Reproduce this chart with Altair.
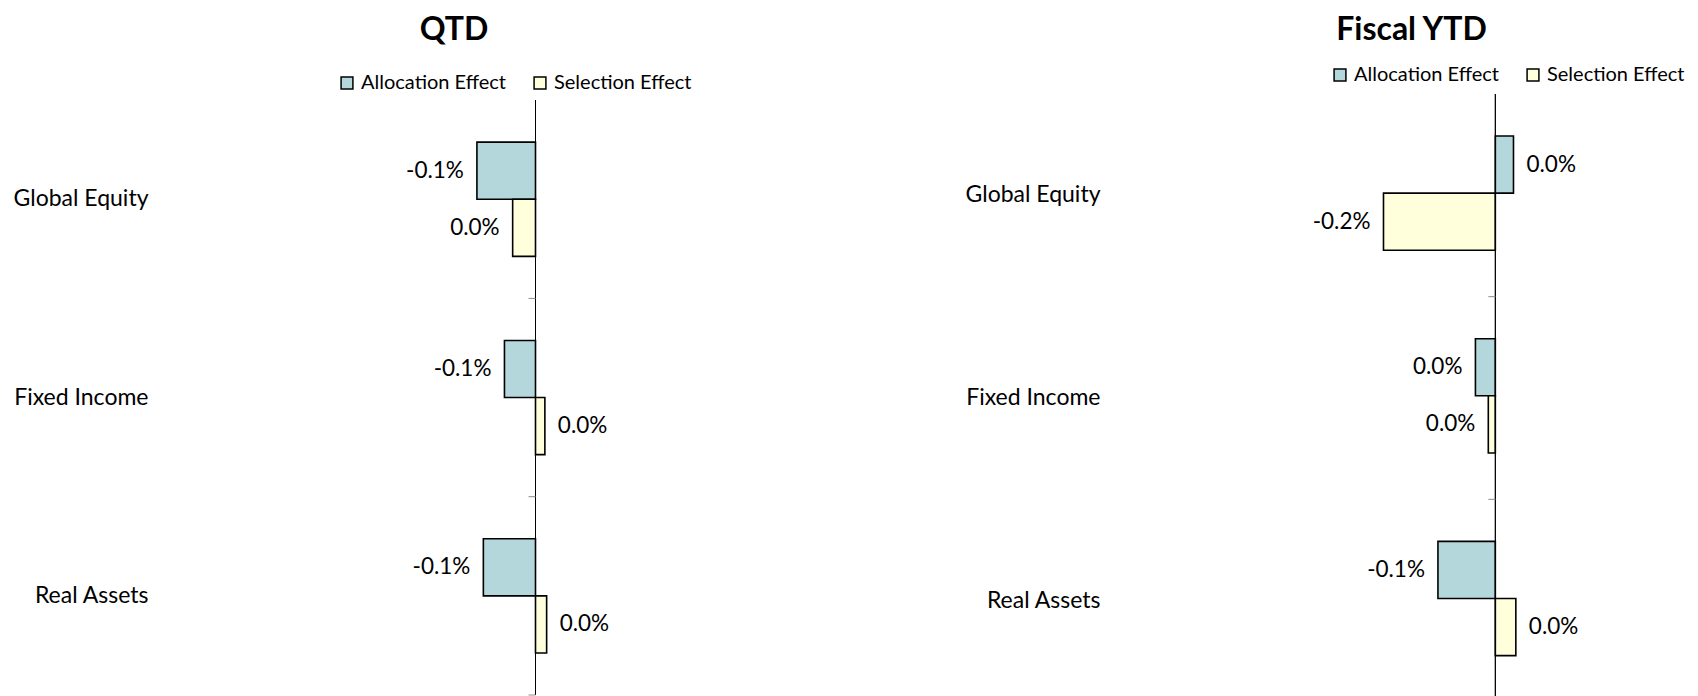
import altair as alt
import pandas as pd

categories = ["Global Equity", "Fixed Income", "Real Assets"]
effects = ["Allocation Effect", "Selection Effect"]
effect_colors = ["#b4d7dc", "#ffffdc"]

qtd_allocation = [-0.100, -0.053, -0.089]
qtd_selection = [-0.039, 0.016, 0.019]
qtd_alloc_labels = ["-0.1%", "-0.1%", "-0.1%"]
qtd_sel_labels = ["0.0%", "0.0%", "0.0%"]

ytd_allocation = [0.031, -0.034, -0.098]
ytd_selection = [-0.191, -0.012, 0.035]
ytd_alloc_labels = ["0.0%", "0.0%", "-0.1%"]
ytd_sel_labels = ["-0.2%", "0.0%", "0.0%"]

FONT = "Lato"


def frame(alloc, sel, alabels, slabels):
    rows = []
    for i, c in enumerate(categories):
        rows.append({"category": c, "effect": effects[0], "value": alloc[i], "label": alabels[i]})
        rows.append({"category": c, "effect": effects[1], "value": sel[i], "label": slabels[i]})
    return pd.DataFrame(rows)


def panel(df, title, domain, width, height, outer_pad, label_pad, legend_x, legend_y,
          title_offset, title_frame, title_dx):
    yscale = alt.Scale(domain=categories, paddingInner=0, paddingOuter=outer_pad, align=1)
    xscale = alt.Scale(domain=domain, nice=False, zero=False)
    yaxis = alt.Axis(title=None, ticks=False, domain=False, labelPadding=label_pad,
                     labelFontSize=23, labelFont=FONT, labelColor="#000")
    y = alt.Y("category:N", scale=yscale, sort=categories, axis=yaxis)
    yoff = alt.YOffset("effect:N", sort=effects,
                       scale=alt.Scale(domain=effects, paddingInner=0, paddingOuter=0.736))
    x = alt.X("value:Q", scale=xscale, axis=None)
    base = alt.Chart(df)
    bars = base.mark_bar(stroke="black", strokeWidth=1.6).encode(
        x=x, y=y, yOffset=yoff,
        color=alt.Color("effect:N", sort=effects,
                        scale=alt.Scale(domain=effects, range=effect_colors),
                        legend=alt.Legend(title=None, orient="none", legendX=legend_x,
                                          legendY=legend_y, direction="horizontal",
                                          symbolType="square", symbolSize=140,
                                          symbolStrokeColor="black", symbolStrokeWidth=1.5,
                                          labelFontSize=20, labelFont=FONT, labelColor="#000",
                                          labelOffset=4, columnPadding=24)),
    )
    neg = base.transform_filter("datum.value < 0").mark_text(
        align="right", baseline="middle", dx=-13, fontSize=22.5, font=FONT, color="#000"
    ).encode(x=x, y=y, yOffset=yoff, text="label:N")
    pos = base.transform_filter("datum.value >= 0").mark_text(
        align="left", baseline="middle", dx=13, fontSize=22.5, font=FONT, color="#000"
    ).encode(x=x, y=y, yOffset=yoff, text="label:N")
    axis_df = pd.DataFrame({"category": categories, "value": [0.0] * len(categories)})
    # zero line: a zero-width outlined band per category, spanning the category bands only
    zero = alt.Chart(axis_df).mark_bar(
        fill="transparent", stroke="black", strokeWidth=1
    ).encode(
        x=x, x2=alt.X2("value"),
        y=alt.Y("category:N", scale=yscale, sort=categories, axis=yaxis),
    )
    ticks = alt.Chart(axis_df).mark_rule(
        color="#8c8c8c", strokeWidth=1, xOffset=-7
    ).encode(
        x=x, x2=alt.X2("value"),
        y=alt.Y("category:N", scale=yscale, sort=categories, bandPosition=1, axis=yaxis),
    )
    return alt.layer(bars, zero, ticks, neg, pos).properties(
        width=width, height=height,
        title=alt.TitleParams(text=title, fontSize=32, font=FONT, fontWeight="bold",
                              color="#000", anchor="middle", frame=title_frame,
                              offset=title_offset, dx=title_dx),
    )


left = panel(frame(qtd_allocation, qtd_selection, qtd_alloc_labels, qtd_sel_labels),
             "QTD", [-0.6, 0.6], 703, 601, 0.0154, 36, 153, -21, 26, "bounds", 4)
right = panel(frame(ytd_allocation, ytd_selection, ytd_alloc_labels, ytd_sel_labels),
              "Fiscal YTD", [-0.6, 0.3], 527, 608, 0, 44, 186, -29, 18, "group", 4)

chart = alt.hconcat(left, right, spacing=78).resolve_scale(
    color="independent"
).resolve_legend(color="independent").properties(
    padding={"left": 5, "top": 6, "right": 0, "bottom": 0}
).configure_view(stroke=None)

chart.save("out.html", embed_options={"renderer": "svg", "actions": False})
